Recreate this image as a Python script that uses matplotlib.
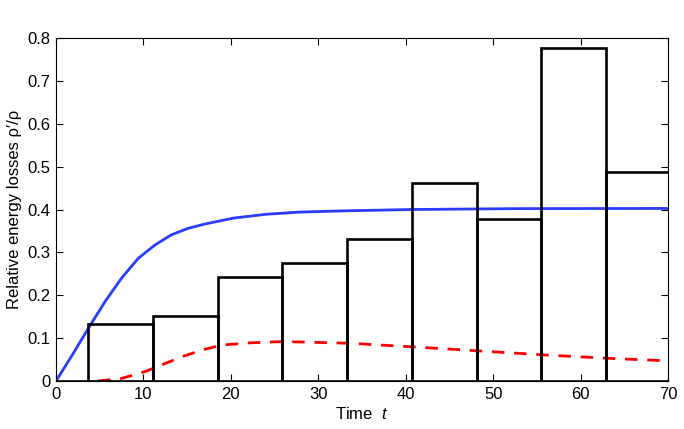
import numpy as np
import matplotlib.pyplot as plt

plt.rcParams['font.family'] = ['Liberation Sans', 'DejaVu Sans']
plt.rcParams['mathtext.fontset'] = 'custom'
plt.rcParams['mathtext.it'] = 'Liberation Sans:italic'

# histogram bars (center, height), bin width
bin_centers = [0, 7.4, 14.8, 22.2, 29.6, 37.0, 44.4, 51.8, 59.2, 66.6]
bin_heights = [0, 0.133, 0.152, 0.242, 0.275, 0.331, 0.461, 0.377, 0.776, 0.487]
bin_width = 7.4

# blue curve
t_blue = [0, 1.87, 3.7, 5.6, 7.5, 9.4, 11.3, 13.2, 15.1, 17.0, 20.3, 24.1,
          27.9, 33.2, 40.8, 52.3, 70]
y_blue = [0, 0.061, 0.123, 0.185, 0.240, 0.286, 0.317, 0.341, 0.356, 0.366,
          0.380, 0.389, 0.394, 0.397, 0.400, 0.402, 0.4025]

# red dashed curve
t_red = [4.8, 7.5, 10.2, 12.5, 14.6, 17.0, 19.1, 22.2, 26.0, 29.8, 33.6,
         41.3, 48.5, 55.7, 63.0, 70]
y_red = [0, 0.006, 0.022, 0.041, 0.058, 0.074, 0.084, 0.089, 0.092, 0.090,
         0.088, 0.079, 0.070, 0.061, 0.053, 0.047]

fig = plt.figure(figsize=(6.84, 4.29), dpi=100)
ax = fig.add_axes([0.0819, 0.1119, 0.8947, 0.7995])

ax.plot(t_blue, y_blue, color='#2a3cff', lw=2.0, zorder=2)
ax.plot(t_red, y_red, color='red', lw=2.0, dashes=(4.5, 3.5), zorder=2)
ax.bar(bin_centers, bin_heights, width=bin_width, facecolor='none',
       edgecolor='black', lw=1.9, zorder=3)

ax.set_xlim(0, 70)
ax.set_ylim(0, 0.8)
ax.set_xticks(np.arange(0, 71, 10))
ax.set_yticks(np.arange(0, 0.81, 0.1))
ax.set_yticklabels(['0', '0.1', '0.2', '0.3', '0.4', '0.5', '0.6', '0.7', '0.8'])
ax.tick_params(direction='in', length=5, width=0.8, top=True, right=True,
               labelsize=12, pad=4)
for s in ax.spines.values():
    s.set_linewidth(0.8)

ax.set_xlabel('Time  $t$', fontsize=12, labelpad=3)
ax.set_ylabel('Relative energy losses ρ′/ρ', fontsize=12, labelpad=4)

plt.savefig('out.png', dpi=100)
